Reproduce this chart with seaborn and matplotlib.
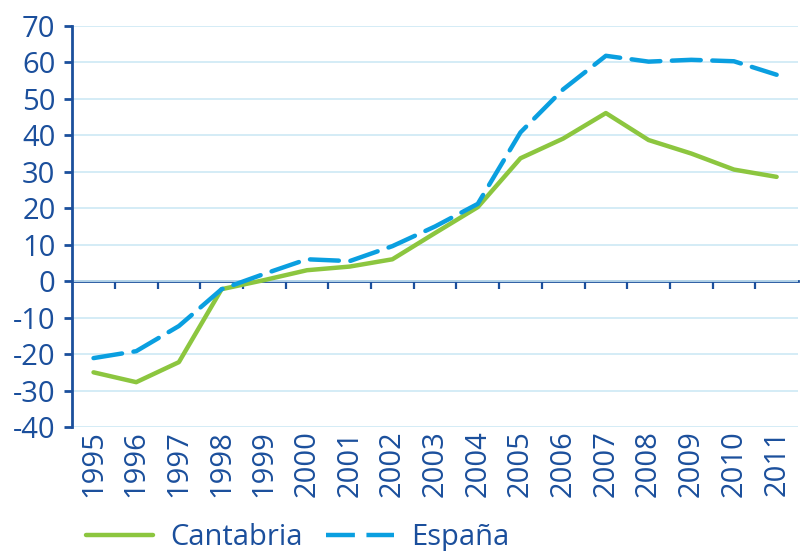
import pandas as pd
import matplotlib.pyplot as plt
import seaborn as sns

sns.set_style('white')
plt.rcParams['font.family'] = ['Open Sans', 'DejaVu Sans']
plt.rcParams['axes.unicode_minus'] = False

years = list(range(1995, 2012))
cantabria = [-25.0, -27.7, -22.2, -2.2, 0.3, 3.0, 4.0, 6.0, 13.2, 20.3,
             33.7, 39.1, 46.1, 38.7, 35.0, 30.6, 28.6]
espana = [-21.1, -19.2, -12.3, -2.2, 2.0, 6.0, 5.5, 9.6, 15.0, 21.2,
          40.8, 52.6, 61.8, 60.2, 60.7, 60.3, 56.6]

NAVY = '#1b4f9c'
GREEN = '#8cc63f'
BLUE = '#0a9fe0'
GRID = '#cde9f5'

data = pd.DataFrame({
    'year': years * 2,
    'value': cantabria + espana,
    'serie': ['Cantabria'] * len(years) + ['España'] * len(years),
})

fig = plt.figure(figsize=(8.02, 5.51), dpi=100)
ax = fig.add_axes([0.09, 0.225, 0.905, 0.728])

sns.lineplot(data=data, x='year', y='value', hue='serie', style='serie',
             palette={'Cantabria': GREEN, 'España': BLUE},
             dashes={'Cantabria': '', 'España': (6.5, 2.6)},
             linewidth=3.2, ax=ax)
for ln in ax.lines:
    ln.set_dash_capstyle('round')
    ln.set_solid_capstyle('round')

ax.set_xlim(1994.5, 2011.5)
ax.set_ylim(-40, 70)
ax.set_yticks(range(-40, 71, 10))
ax.set_xticks(years)
ax.set_xticklabels([str(y) for y in years], rotation=90)
ax.set_xlabel('')
ax.set_ylabel('')

ax.grid(axis='y', color=GRID, linewidth=1.2)
ax.set_axisbelow(True)
for side in ['top', 'right', 'bottom']:
    ax.spines[side].set_visible(False)
ax.spines['left'].set_color(NAVY)
ax.spines['left'].set_linewidth(2)

ax.tick_params(axis='y', colors=NAVY, labelsize=21, length=6, width=2,
               direction='out', pad=6, left=True)
ax.tick_params(axis='x', colors=NAVY, labelsize=21, length=0, pad=2)
for lbl in ax.get_xticklabels() + ax.get_yticklabels():
    lbl.set_fontweight('medium')

# zero line with category separators
zero = ax.secondary_xaxis(40 / 110)
zero.spines['bottom'].set_color(NAVY)
zero.spines['bottom'].set_linewidth(2)
zero.set_xticks([y + 0.5 for y in years[:-1]])
zero.set_xticklabels([])
zero.tick_params(axis='x', colors=NAVY, length=6, width=1.6, direction='out')

sns.move_legend(ax, 'lower left', bbox_to_anchor=(0.1, -0.012),
                bbox_transform=fig.transFigure, ncol=2, frameon=False,
                title=None, fontsize=21, handlelength=2.3,
                columnspacing=0.8, handletextpad=0.6,
                borderaxespad=0, borderpad=0.2)
for t in ax.get_legend().get_texts():
    t.set_color(NAVY)
    t.set_fontweight('medium')

plt.savefig('out.png', dpi=100)
